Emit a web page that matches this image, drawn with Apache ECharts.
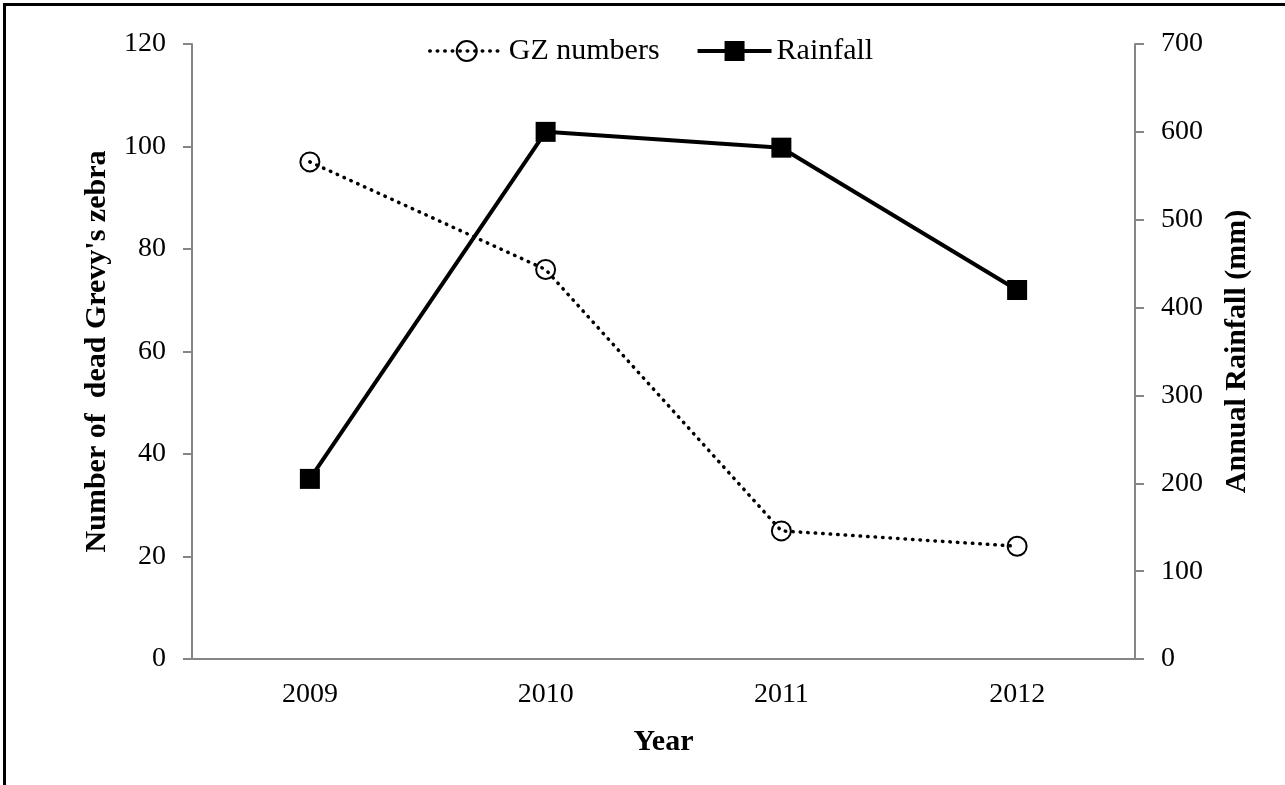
<!DOCTYPE html>
<html>
<head>
<meta charset="utf-8">
<title>Grevy's zebra deaths and rainfall</title>
<script src="https://cdn.jsdelivr.net/npm/echarts@6/dist/echarts.min.js"></script>
<style>
  html, body { margin: 0; padding: 0; background: #fff; }
  #wrap { position: relative; width: 1285px; height: 785px; overflow: hidden; }
  #chart { width: 1285px; height: 785px; }
  #frame {
    position: absolute; left: 3px; top: 3px; width: 1300px; height: 800px;
    border-top: 3px solid #000; border-left: 3px solid #000; pointer-events: none;
  }
</style>
</head>
<body>
<div id="wrap">
  <div id="chart"></div>
  <div id="frame"></div>
</div>
<script>
const years = ['2009', '2010', '2011', '2012']
const gzNumbers = [97, 76, 25, 22]
const rainfall = [205, 600, 582, 420]

const FONT = '"Liberation Serif", "Times New Roman", serif'
const AXIS_GREY = '#868686'

const chart = echarts.init(document.getElementById('chart'))

const yAxisBase = {
  type: 'value',
  nameLocation: 'middle',
  nameRotate: 90,
  nameTextStyle: { color: '#000', fontFamily: FONT, fontSize: 30, fontWeight: 'bold' },
  axisLine: { show: true, lineStyle: { color: AXIS_GREY, width: 2 } },
  axisTick: { show: true, length: 9, lineStyle: { color: AXIS_GREY, width: 2 } },
  axisLabel: { color: '#000', fontFamily: FONT, fontSize: 28, margin: 26 },
  splitLine: { show: false },
}

chart.setOption({
  backgroundColor: '#fff',
  animation: false,
  grid: { left: 192, right: 150, top: 44, bottom: 126 },
  legend: {
    left: 423,
    top: 31,
    itemWidth: 74,
    itemHeight: 25,
    itemGap: 36,
    lineStyle: { width: 'inherit' },
    textStyle: { color: '#000', fontFamily: FONT, fontSize: 30 },
    data: ['GZ numbers', 'Rainfall'],
  },
  xAxis: {
    type: 'category',
    data: years,
    boundaryGap: true,
    name: 'Year',
    nameLocation: 'middle',
    nameGap: 68,
    nameTextStyle: { color: '#000', fontFamily: FONT, fontSize: 30, fontWeight: 'bold' },
    axisLine: { lineStyle: { color: AXIS_GREY, width: 2 } },
    axisTick: { length: 9, lineStyle: { color: AXIS_GREY, width: 2 } },
    axisLabel: { color: '#000', fontFamily: FONT, fontSize: 28, margin: 22 },
  },
  yAxis: [
    {
      ...yAxisBase,
      position: 'left',
      min: 0,
      max: 120,
      interval: 20,
      name: "Number of  dead Grevy's zebra",
      nameGap: 80,
    },
    {
      ...yAxisBase,
      position: 'right',
      min: 0,
      max: 700,
      interval: 100,
      name: 'Annual Rainfall (mm)',
      nameGap: 87,
    },
  ],
  series: [
    {
      name: 'GZ numbers',
      type: 'line',
      yAxisIndex: 0,
      data: gzNumbers,
      symbol: 'circle',
      symbolSize: 19,
      lineStyle: { color: '#000', width: 3.5, type: [0.5, 7], cap: 'round' },
      itemStyle: { color: 'rgba(0,0,0,0)', borderColor: '#000', borderWidth: 2 },
      z: 3,
    },
    {
      name: 'Rainfall',
      type: 'line',
      yAxisIndex: 1,
      data: rainfall,
      symbol: 'rect',
      symbolSize: 20,
      lineStyle: { color: '#000', width: 4 },
      itemStyle: { color: '#000' },
      z: 2,
    },
  ],
})
</script>
</body>
</html>
